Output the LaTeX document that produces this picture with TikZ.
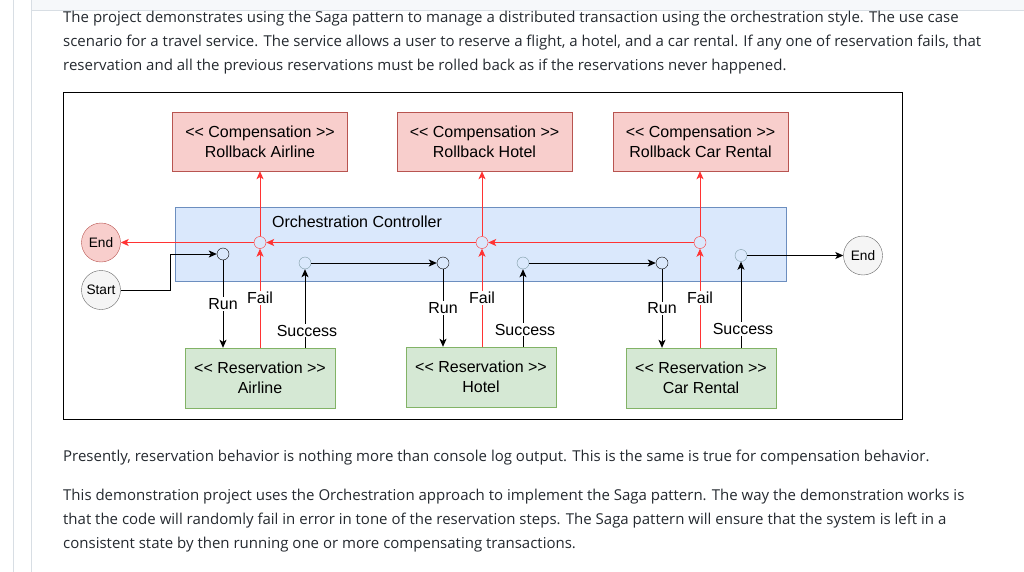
\documentclass[tikz,border=0pt]{standalone}
\usepackage{fontspec}
\setmainfont{Liberation Sans}
\newfontfamily\pagefont{Open Sans}
\usetikzlibrary{arrows.meta}
\definecolor{pagetext}{RGB}{36,41,47}
\definecolor{pagerule}{RGB}{216,222,228}
\definecolor{pagetop}{RGB}{246,248,250}
\definecolor{redfill}{HTML}{F8CECC}
\definecolor{redline}{HTML}{B85450}
\definecolor{greenfill}{HTML}{D5E8D4}
\definecolor{greenline}{HTML}{82B366}
\definecolor{bluefill}{HTML}{DAE8FC}
\definecolor{blueline}{HTML}{6C8EBF}
\definecolor{grayfill}{HTML}{F5F5F5}
\definecolor{grayline}{HTML}{666666}
\definecolor{failred}{RGB}{255,51,51}
\definecolor{okline}{RGB}{125,155,165}
\newcommand\opn{<\kern0pt<}
\newcommand\cls{>\kern0pt>}
\tikzstyle{para}=[inner sep=0, anchor=base west, text=pagetext, font=\pagefont\fontsize{15}{24}\selectfont]
\tikzstyle{comp}=[rectangle, draw=redline, fill=redfill, minimum width=175pt, minimum height=59pt, align=center, font=\fontsize{16}{20}\selectfont]
\tikzstyle{resv}=[rectangle, draw=greenline, fill=greenfill, minimum width=150pt, minimum height=60pt, align=center, font=\fontsize{16}{20}\selectfont]
\tikzstyle{term}=[circle, minimum size=39pt, inner sep=0, font=\fontsize{13.7}{16}\selectfont]
\tikzstyle{dot}=[circle, minimum size=12pt, inner sep=0, draw=black, fill=bluefill]
\tikzstyle{fdot}=[dot, draw=failred]
\tikzstyle{sdot}=[dot, draw=okline]
\tikzstyle{lbl}=[fill=white, inner sep=1pt, font=\fontsize{16}{18}\selectfont]
\tikzstyle{conn}=[line width=1pt, -{Stealth[length=8pt, width=7pt, inset=2pt]}]
\tikzstyle{fconn}=[conn, draw=failred, -{Stealth[length=8pt, width=7pt, inset=2pt, fill=failred]}]

\begin{document}
\begin{tikzpicture}[x=1pt, y=-1pt]
    \useasboundingbox (0,0) rectangle (1024,572);
    % page around the picture
    \fill[pagetop] (31,0) rectangle (1024,10);
    \draw[pagerule] (13.5,0) -- (13.5,572);
    \draw[pagerule] (31,0) -- (31,572);
    \draw[pagerule] (31,10) -- (1024,10);
    \node[para] (intro1) at (63,22.5) {The project demonstrates using the Saga pattern to manage a distributed transaction using the orchestration style. The use case};
    \node[para] (intro2) at (63,46.5) {scenario for a travel service. The service allows a user to reserve a flight, a hotel, and a car rental. If any one of reservation fails, that};
    \node[para] (intro3) at (63,70.5) {reservation and all the previous reservations must be rolled back as if the reservations never happened.};
    \node[para] (note1) at (63,461.5) {Presently, reservation behavior is nothing more than console log output. This is the same is true for compensation behavior.};
    \node[para] (note2) at (63,500.5) {This demonstration project uses the Orchestration approach to implement the Saga pattern. The way the demonstration works is};
    \node[para] (note3) at (63,524.5) {that the code will randomly fail in error in tone of the reservation steps. The Saga pattern will ensure that the system is left in a};
    \node[para] (note4) at (63,548.5) {consistent state by then running one or more compensating transactions.};

    % the diagram
    \draw[line width=1pt] (63,93) rectangle (902,419);
    \node[rectangle, draw=blueline, fill=bluefill, minimum width=611pt, minimum height=74pt] (ctrl) at (480.5,244) {};
    \node[font=\fontsize{16}{18}\selectfont] (ctrltxt) at (357,222) {Orchestration Controller};
    \node[comp] (compA) at (260,141.5) {\opn{} Compensation \cls\\Rollback Airline};
    \node[comp] (compH) at (484.5,141.5) {\opn{} Compensation \cls\\Rollback Hotel};
    \node[comp] (compC) at (700.5,141.5) {\opn{} Compensation \cls\\Rollback Car Rental};
    \node[resv] (resA) at (260,378) {\opn{} Reservation \cls\\Airline};
    \node[resv] (resH) at (481,377) {\opn{} Reservation \cls\\Hotel};
    \node[resv] (resC) at (701,378) {\opn{} Reservation \cls\\Car Rental};
    \node[term, draw=redline, fill=redfill] (endL) at (101,242.5) {End};
    \node[term, draw=grayline, fill=grayfill] (start) at (101,290) {Start};
    \node[term, draw=grayline, fill=grayfill] (endR) at (863,255.5) {End};
    \node[dot] (runA) at (223,254) {};
    \node[dot] (runH) at (443,263) {};
    \node[dot] (runC) at (662,263) {};
    \node[fdot] (failA) at (260,242.5) {};
    \node[fdot] (failH) at (482,242.5) {};
    \node[fdot] (failC) at (700,242.5) {};
    \node[sdot] (sucA) at (305,263) {};
    \node[sdot] (sucH) at (523,263) {};
    \node[sdot] (sucC) at (741,255.5) {};

    \draw[conn] (start.east) -- ++(49.5,0) |- (runA);
    \foreach \k in {A,H,C} {
      \draw[conn] (run\k) -- (run\k |- res\k.north) node[lbl, pos=.5] {Run};
      \draw[fconn] (fail\k |- res\k.north) -- (fail\k) node[lbl, pos=.5] {Fail};
      \draw[conn] (suc\k |- res\k.north) -- (suc\k) node[lbl, pos=.22, xshift=2pt] {Success};
      \draw[fconn] (fail\k) -- (fail\k |- comp\k.south);
    }
    \foreach \from/\to in {failC/failH, failH/failA, failA/endL}
      \draw[fconn] (\from) -- (\to);
    \foreach \from/\to in {sucA/runH, sucH/runC, sucC/endR}
      \draw[conn] (\from) -- (\to);
\end{tikzpicture}
\end{document}
